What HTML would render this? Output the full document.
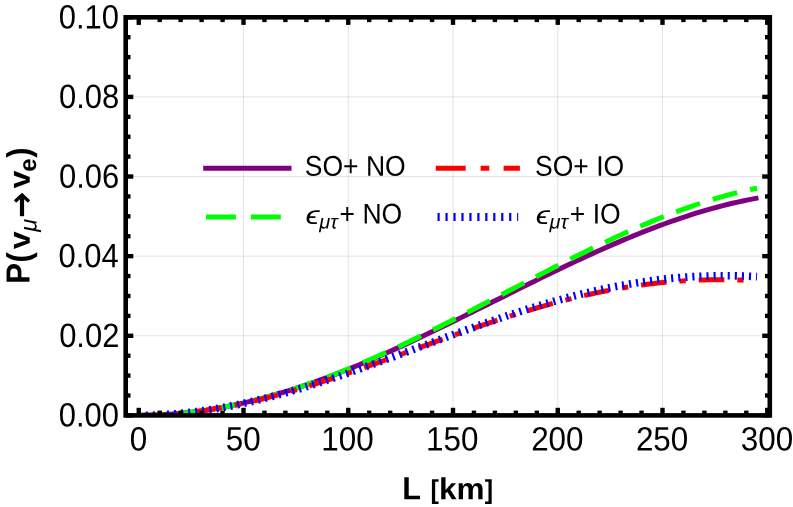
<!DOCTYPE html>
<html><head><meta charset="utf-8"><title>P(nu_mu -> nu_e) vs L</title>
<style>html,body{margin:0;padding:0;background:#fff;}svg{display:block;will-change:transform;}text{font-family:"Liberation Sans",sans-serif;fill:#000;}</style>
</head><body>
<svg width="793" height="507" viewBox="0 0 793 507">
<rect width="793" height="507" fill="#fff"/>
<g stroke="#000" stroke-opacity="0.11" stroke-width="1" fill="none">
<path d="M243.50,17.3 V415.4"/>
<path d="M348.25,17.3 V415.4"/>
<path d="M453.00,17.3 V415.4"/>
<path d="M557.75,17.3 V415.4"/>
<path d="M662.50,17.3 V415.4"/>
<path d="M125.7,335.78 H769.8"/>
<path d="M125.7,256.16 H769.8"/>
<path d="M125.7,176.54 H769.8"/>
<path d="M125.7,96.92 H769.8"/>
</g>
<clipPath id="pc"><rect x="125.7" y="17.3" width="644.0999999999999" height="398.09999999999997"/></clipPath>
<g fill="none" stroke-width="5" clip-path="url(#pc)">
<path d="M138.75,415.40 L143.96,415.37 L149.17,415.27 L154.37,415.11 L159.58,414.89 L164.79,414.60 L170.00,414.26 L175.20,413.85 L180.41,413.38 L185.62,412.84 L190.83,412.25 L196.03,411.60 L201.24,410.88 L206.45,410.11 L211.66,409.28 L216.86,408.40 L222.07,407.45 L227.28,406.45 L232.49,405.39 L237.69,404.28 L242.90,403.12 L248.11,401.90 L253.32,400.63 L258.52,399.30 L263.73,397.93 L268.94,396.50 L274.15,395.03 L279.35,393.50 L284.56,391.93 L289.77,390.32 L294.98,388.65 L300.18,386.94 L305.39,385.19 L310.60,383.39 L315.81,381.55 L321.01,379.68 L326.22,377.76 L331.43,375.80 L336.64,373.80 L341.85,371.77 L347.05,369.70 L352.26,367.59 L357.47,365.45 L362.68,363.28 L367.88,361.08 L373.09,358.85 L378.30,356.58 L383.51,354.29 L388.71,351.98 L393.92,349.63 L399.13,347.27 L404.34,344.87 L409.54,342.46 L414.75,340.03 L419.96,337.57 L425.17,335.10 L430.37,332.61 L435.58,330.10 L440.79,327.58 L446.00,325.05 L451.20,322.50 L456.41,319.94 L461.62,317.37 L466.83,314.80 L472.03,312.21 L477.24,309.63 L482.45,307.03 L487.66,304.44 L492.86,301.84 L498.07,299.24 L503.28,296.64 L508.49,294.04 L513.70,291.45 L518.90,288.86 L524.11,286.28 L529.32,283.71 L534.53,281.14 L539.73,278.59 L544.94,276.04 L550.15,273.51 L555.36,270.99 L560.56,268.49 L565.77,266.01 L570.98,263.54 L576.19,261.09 L581.39,258.67 L586.60,256.26 L591.81,253.88 L597.02,251.53 L602.22,249.20 L607.43,246.89 L612.64,244.62 L617.85,242.38 L623.05,240.17 L628.26,237.99 L633.47,235.84 L638.68,233.74 L643.88,231.66 L649.09,229.63 L654.30,227.63 L659.51,225.68 L664.71,223.77 L669.92,221.90 L675.13,220.07 L680.34,218.29 L685.55,216.56 L690.75,214.88 L695.96,213.24 L701.17,211.66 L706.38,210.13 L711.58,208.65 L716.79,207.22 L722.00,205.85 L727.21,204.54 L732.41,203.28 L737.62,202.08 L742.83,200.95 L748.04,199.87 L753.24,198.86 L758.45,197.91" stroke="#800080"/>
<path d="M138.75,415.40 L143.95,415.37 L149.14,415.27 L154.34,415.12 L159.53,414.90 L164.73,414.62 L169.92,414.28 L175.12,413.87 L180.31,413.41 L185.51,412.88 L190.70,412.30 L195.90,411.65 L201.09,410.95 L206.29,410.19 L211.48,409.36 L216.68,408.48 L221.87,407.55 L227.07,406.55 L232.26,405.50 L237.46,404.40 L242.65,403.23 L247.85,402.02 L253.05,400.75 L258.24,399.43 L263.44,398.05 L268.63,396.62 L273.83,395.14 L279.02,393.62 L284.22,392.04 L289.41,390.41 L294.61,388.74 L299.80,387.02 L305.00,385.25 L310.19,383.44 L315.39,381.58 L320.58,379.68 L325.78,377.74 L330.97,375.76 L336.17,373.74 L341.36,371.67 L346.56,369.57 L351.76,367.43 L356.95,365.26 L362.15,363.05 L367.34,360.80 L372.54,358.52 L377.73,356.21 L382.93,353.87 L388.12,351.50 L393.32,349.10 L398.51,346.67 L403.71,344.22 L408.90,341.74 L414.10,339.24 L419.29,336.72 L424.49,334.17 L429.68,331.60 L434.88,329.02 L440.07,326.41 L445.27,323.79 L450.46,321.16 L455.66,318.51 L460.86,315.84 L466.05,313.17 L471.25,310.49 L476.44,307.79 L481.64,305.09 L486.83,302.39 L492.03,299.68 L497.22,296.96 L502.42,294.25 L507.61,291.53 L512.81,288.81 L518.00,286.10 L523.20,283.39 L528.39,280.68 L533.59,277.98 L538.78,275.29 L543.98,272.61 L549.17,269.94 L554.37,267.28 L559.57,264.63 L564.76,262.00 L569.96,259.38 L575.15,256.79 L580.35,254.21 L585.54,251.65 L590.74,249.11 L595.93,246.60 L601.13,244.11 L606.32,241.65 L611.52,239.22 L616.71,236.81 L621.91,234.44 L627.10,232.10 L632.30,229.79 L637.49,227.52 L642.69,225.28 L647.88,223.08 L653.08,220.92 L658.27,218.80 L663.47,216.73 L668.67,214.70 L673.86,212.71 L679.06,210.77 L684.25,208.88 L689.45,207.03 L694.64,205.24 L699.84,203.50 L705.03,201.81 L710.23,200.18 L715.42,198.61 L720.62,197.09 L725.81,195.63 L731.01,194.23 L736.20,192.90 L741.40,191.63 L746.59,190.42 L751.79,189.28 L756.98,188.21" stroke="#00ff00" stroke-dasharray="25.4 13.25"/>
<path d="M138.75,415.40 L143.94,415.37 L149.13,415.27 L154.31,415.11 L159.50,414.89 L164.69,414.61 L169.88,414.27 L175.07,413.87 L180.26,413.40 L185.44,412.88 L190.63,412.31 L195.82,411.67 L201.01,410.98 L206.20,410.24 L211.38,409.44 L216.57,408.59 L221.76,407.69 L226.95,406.74 L232.14,405.74 L237.33,404.69 L242.51,403.59 L247.70,402.45 L252.89,401.26 L258.08,400.03 L263.27,398.76 L268.46,397.45 L273.64,396.10 L278.83,394.71 L284.02,393.28 L289.21,391.82 L294.40,390.32 L299.58,388.79 L304.77,387.23 L309.96,385.64 L315.15,384.02 L320.34,382.38 L325.53,380.70 L330.71,379.01 L335.90,377.28 L341.09,375.54 L346.28,373.78 L351.47,372.00 L356.65,370.20 L361.84,368.39 L367.03,366.56 L372.22,364.72 L377.41,362.86 L382.60,361.00 L387.78,359.13 L392.97,357.25 L398.16,355.37 L403.35,353.48 L408.54,351.59 L413.72,349.70 L418.91,347.80 L424.10,345.91 L429.29,344.03 L434.48,342.14 L439.67,340.27 L444.85,338.40 L450.04,336.54 L455.23,334.69 L460.42,332.85 L465.61,331.02 L470.80,329.21 L475.98,327.41 L481.17,325.63 L486.36,323.87 L491.55,322.13 L496.74,320.41 L501.92,318.71 L507.11,317.03 L512.30,315.38 L517.49,313.75 L522.68,312.15 L527.87,310.58 L533.05,309.04 L538.24,307.52 L543.43,306.04 L548.62,304.59 L553.81,303.18 L558.99,301.79 L564.18,300.45 L569.37,299.14 L574.56,297.86 L579.75,296.63 L584.94,295.43 L590.12,294.27 L595.31,293.15 L600.50,292.07 L605.69,291.04 L610.88,290.05 L616.06,289.10 L621.25,288.19 L626.44,287.33 L631.63,286.51 L636.82,285.74 L642.01,285.01 L647.19,284.33 L652.38,283.69 L657.57,283.10 L662.76,282.56 L667.95,282.07 L673.14,281.62 L678.32,281.22 L683.51,280.87 L688.70,280.56 L693.89,280.31 L699.08,280.09 L704.26,279.93 L709.45,279.82 L714.64,279.75 L719.83,279.72 L725.02,279.75 L730.21,279.82 L735.39,279.93 L740.58,280.09 L745.77,280.29 L750.96,280.54 L756.15,280.83" stroke="#ff0000" stroke-dasharray="25.6 13 6.3 13"/>
<path d="M138.75,415.40 L143.95,415.37 L149.14,415.27 L154.34,415.11 L159.53,414.89 L164.73,414.61 L169.92,414.27 L175.12,413.86 L180.31,413.40 L185.51,412.88 L190.70,412.30 L195.90,411.67 L201.09,410.97 L206.29,410.23 L211.48,409.43 L216.68,408.58 L221.87,407.67 L227.07,406.72 L232.26,405.72 L237.46,404.66 L242.65,403.56 L247.85,402.42 L253.05,401.23 L258.24,399.99 L263.44,398.71 L268.63,397.40 L273.83,396.04 L279.02,394.64 L284.22,393.21 L289.41,391.73 L294.61,390.23 L299.80,388.69 L305.00,387.12 L310.19,385.51 L315.39,383.88 L320.58,382.22 L325.78,380.53 L330.97,378.82 L336.17,377.08 L341.36,375.32 L346.56,373.54 L351.76,371.74 L356.95,369.92 L362.15,368.09 L367.34,366.24 L372.54,364.37 L377.73,362.50 L382.93,360.61 L388.12,358.71 L393.32,356.80 L398.51,354.89 L403.71,352.97 L408.90,351.05 L414.10,349.12 L419.29,347.19 L424.49,345.27 L429.68,343.34 L434.88,341.42 L440.07,339.51 L445.27,337.60 L450.46,335.69 L455.66,333.80 L460.86,331.92 L466.05,330.04 L471.25,328.18 L476.44,326.34 L481.64,324.51 L486.83,322.70 L492.03,320.90 L497.22,319.13 L502.42,317.37 L507.61,315.64 L512.81,313.93 L518.00,312.25 L523.20,310.59 L528.39,308.95 L533.59,307.35 L538.78,305.77 L543.98,304.23 L549.17,302.72 L554.37,301.23 L559.57,299.79 L564.76,298.37 L569.96,296.99 L575.15,295.65 L580.35,294.35 L585.54,293.08 L590.74,291.85 L595.93,290.67 L601.13,289.52 L606.32,288.41 L611.52,287.35 L616.71,286.33 L621.91,285.35 L627.10,284.42 L632.30,283.54 L637.49,282.70 L642.69,281.90 L647.88,281.15 L653.08,280.45 L658.27,279.80 L663.47,279.19 L668.67,278.63 L673.86,278.12 L679.06,277.66 L684.25,277.25 L689.45,276.89 L694.64,276.58 L699.84,276.31 L705.03,276.10 L710.23,275.94 L715.42,275.82 L720.62,275.76 L725.81,275.74 L731.01,275.77 L736.20,275.85 L741.40,275.99 L746.59,276.16 L751.79,276.39 L756.98,276.66" stroke="#0000ff" stroke-width="7.7" stroke-dasharray="2.1 4.98"/>
</g>
<rect x="125.7" y="17.3" width="644.0999999999999" height="398.09999999999997" fill="none" stroke="#000" stroke-width="4.6"/>
<g stroke="#000" stroke-width="4.4" fill="none">
<path d="M138.75,415.4 v-7.6"/>
<path d="M138.75,17.3 v7.6"/>
<path d="M159.70,415.4 v-4.8"/>
<path d="M159.70,17.3 v4.8"/>
<path d="M180.65,415.4 v-4.8"/>
<path d="M180.65,17.3 v4.8"/>
<path d="M201.60,415.4 v-4.8"/>
<path d="M201.60,17.3 v4.8"/>
<path d="M222.55,415.4 v-4.8"/>
<path d="M222.55,17.3 v4.8"/>
<path d="M243.50,415.4 v-7.6"/>
<path d="M243.50,17.3 v7.6"/>
<path d="M264.45,415.4 v-4.8"/>
<path d="M264.45,17.3 v4.8"/>
<path d="M285.40,415.4 v-4.8"/>
<path d="M285.40,17.3 v4.8"/>
<path d="M306.35,415.4 v-4.8"/>
<path d="M306.35,17.3 v4.8"/>
<path d="M327.30,415.4 v-4.8"/>
<path d="M327.30,17.3 v4.8"/>
<path d="M348.25,415.4 v-7.6"/>
<path d="M348.25,17.3 v7.6"/>
<path d="M369.20,415.4 v-4.8"/>
<path d="M369.20,17.3 v4.8"/>
<path d="M390.15,415.4 v-4.8"/>
<path d="M390.15,17.3 v4.8"/>
<path d="M411.10,415.4 v-4.8"/>
<path d="M411.10,17.3 v4.8"/>
<path d="M432.05,415.4 v-4.8"/>
<path d="M432.05,17.3 v4.8"/>
<path d="M453.00,415.4 v-7.6"/>
<path d="M453.00,17.3 v7.6"/>
<path d="M473.95,415.4 v-4.8"/>
<path d="M473.95,17.3 v4.8"/>
<path d="M494.90,415.4 v-4.8"/>
<path d="M494.90,17.3 v4.8"/>
<path d="M515.85,415.4 v-4.8"/>
<path d="M515.85,17.3 v4.8"/>
<path d="M536.80,415.4 v-4.8"/>
<path d="M536.80,17.3 v4.8"/>
<path d="M557.75,415.4 v-7.6"/>
<path d="M557.75,17.3 v7.6"/>
<path d="M578.70,415.4 v-4.8"/>
<path d="M578.70,17.3 v4.8"/>
<path d="M599.65,415.4 v-4.8"/>
<path d="M599.65,17.3 v4.8"/>
<path d="M620.60,415.4 v-4.8"/>
<path d="M620.60,17.3 v4.8"/>
<path d="M641.55,415.4 v-4.8"/>
<path d="M641.55,17.3 v4.8"/>
<path d="M662.50,415.4 v-7.6"/>
<path d="M662.50,17.3 v7.6"/>
<path d="M683.45,415.4 v-4.8"/>
<path d="M683.45,17.3 v4.8"/>
<path d="M704.40,415.4 v-4.8"/>
<path d="M704.40,17.3 v4.8"/>
<path d="M725.35,415.4 v-4.8"/>
<path d="M725.35,17.3 v4.8"/>
<path d="M746.30,415.4 v-4.8"/>
<path d="M746.30,17.3 v4.8"/>
<path d="M767.25,415.4 v-7.6"/>
<path d="M767.25,17.3 v7.6"/>
<path d="M125.7,415.40 h7.6"/>
<path d="M769.8,415.40 h-7.6"/>
<path d="M125.7,395.50 h4.8"/>
<path d="M769.8,395.50 h-4.8"/>
<path d="M125.7,375.59 h4.8"/>
<path d="M769.8,375.59 h-4.8"/>
<path d="M125.7,355.69 h4.8"/>
<path d="M769.8,355.69 h-4.8"/>
<path d="M125.7,335.78 h7.6"/>
<path d="M769.8,335.78 h-7.6"/>
<path d="M125.7,315.88 h4.8"/>
<path d="M769.8,315.88 h-4.8"/>
<path d="M125.7,295.97 h4.8"/>
<path d="M769.8,295.97 h-4.8"/>
<path d="M125.7,276.06 h4.8"/>
<path d="M769.8,276.06 h-4.8"/>
<path d="M125.7,256.16 h7.6"/>
<path d="M769.8,256.16 h-7.6"/>
<path d="M125.7,236.25 h4.8"/>
<path d="M769.8,236.25 h-4.8"/>
<path d="M125.7,216.35 h4.8"/>
<path d="M769.8,216.35 h-4.8"/>
<path d="M125.7,196.44 h4.8"/>
<path d="M769.8,196.44 h-4.8"/>
<path d="M125.7,176.54 h7.6"/>
<path d="M769.8,176.54 h-7.6"/>
<path d="M125.7,156.63 h4.8"/>
<path d="M769.8,156.63 h-4.8"/>
<path d="M125.7,136.73 h4.8"/>
<path d="M769.8,136.73 h-4.8"/>
<path d="M125.7,116.82 h4.8"/>
<path d="M769.8,116.82 h-4.8"/>
<path d="M125.7,96.92 h7.6"/>
<path d="M769.8,96.92 h-7.6"/>
<path d="M125.7,77.01 h4.8"/>
<path d="M769.8,77.01 h-4.8"/>
<path d="M125.7,57.11 h4.8"/>
<path d="M769.8,57.11 h-4.8"/>
<path d="M125.7,37.20 h4.8"/>
<path d="M769.8,37.20 h-4.8"/>
<path d="M125.7,17.30 h7.6"/>
<path d="M769.8,17.30 h-7.6"/>
</g>
<text transform="translate(129.81,450.60) scale(0.93,1) rotate(0.03)" font-size="33.8">0</text>
<text transform="translate(225.80,450.60) scale(0.93,1) rotate(0.03)" font-size="33.8">50</text>
<text transform="translate(321.24,450.60) scale(0.93,1) rotate(0.03)" font-size="33.8">100</text>
<text transform="translate(425.99,450.60) scale(0.93,1) rotate(0.03)" font-size="33.8">150</text>
<text transform="translate(531.15,450.60) scale(0.93,1) rotate(0.03)" font-size="33.8">200</text>
<text transform="translate(635.90,450.60) scale(0.93,1) rotate(0.03)" font-size="33.8">250</text>
<text transform="translate(740.84,450.60) scale(0.93,1) rotate(0.03)" font-size="33.8">300</text>
<text transform="translate(58.82,426.50) scale(0.915,1) rotate(0.03)" font-size="33.8">0.00</text>
<text transform="translate(59.16,346.88) scale(0.915,1) rotate(0.03)" font-size="33.8">0.02</text>
<text transform="translate(58.51,267.26) scale(0.915,1) rotate(0.03)" font-size="33.8">0.04</text>
<text transform="translate(58.97,187.64) scale(0.915,1) rotate(0.03)" font-size="33.8">0.06</text>
<text transform="translate(58.95,108.02) scale(0.915,1) rotate(0.03)" font-size="33.8">0.08</text>
<text transform="translate(58.82,28.40) scale(0.915,1) rotate(0.03)" font-size="33.8">0.10</text>
<text transform="translate(402.34,499.30) scale(0.96,1) rotate(0.03)" font-size="32.0" font-weight="bold">L</text>
<text transform="translate(430.59,498.60) scale(0.95,1) rotate(0.03)" font-size="26.5" font-weight="bold">[</text>
<text transform="translate(439.10,499.30) scale(1.04,1) rotate(0.03)" font-size="30.3" font-weight="bold">km</text>
<text transform="translate(484.63,498.60) scale(0.95,1) rotate(0.03)" font-size="26.5" font-weight="bold">]</text>
<g transform="translate(29.6,281.7) rotate(-90)">
<text transform="translate(-1.98,0.00) scale(0.93,1) rotate(0.03)" font-size="33.4" font-weight="bold">P</text>
<text transform="translate(19.15,0.70) scale(0.93,1) rotate(0.03)" font-size="33.4" font-weight="bold">(</text>
<text transform="translate(32.47,0.10) scale(1.07,1) rotate(0.03)" font-size="30.0" font-weight="bold">v</text>
<text transform="translate(49.89,6.90) scale(1.0,1) rotate(0.03)" font-size="23.5" font-style="italic">μ</text>
<path d="M65.5,-7.6 H87" stroke="#000" stroke-width="4.2" fill="none"/>
<path d="M80.3,-14.6 L86.6,-7.6 L80.3,-0.6" stroke="#000" stroke-width="3.4" fill="none" stroke-linejoin="miter"/>
<text transform="translate(93.17,0.10) scale(1.07,1) rotate(0.03)" font-size="30.0" font-weight="bold">v</text>
<text transform="translate(109.86,6.40) scale(1.0,1) rotate(0.03)" font-size="24" font-weight="bold">e</text>
<text transform="translate(124.07,0.70) scale(0.93,1) rotate(0.03)" font-size="33.4" font-weight="bold">)</text>
</g>
<g fill="none" stroke-width="5.1">
<path d="M203.2,168.3 H291.5" stroke="#800080"/>
<path d="M206,217 H235.9 M250.9,217 H280.8" stroke="#00ff00"/>
<path d="M435.8,168.3 H465.7 M480.6,168.3 H489.3 M503.6,168.3 H519.9" stroke="#ff0000"/>
<path d="M437.5,217 H518.2" stroke="#0000ff" stroke-width="8" stroke-dasharray="2.2 5.76"/>
</g>
<text transform="translate(304.80,175.75) scale(0.93,1) rotate(0.03)" font-size="28.5">SO+ NO</text>
<text transform="translate(535.00,175.75) scale(0.93,1) rotate(0.03)" font-size="28.5">SO+ IO</text>
<text transform="translate(305.48,223.80) scale(1.22,1) rotate(0.03)" font-size="26" font-style="italic">ϵ</text>
<text transform="translate(319.22,228.60) scale(1.0,1) rotate(0.03)" font-size="20" font-style="italic">μτ</text>
<text transform="translate(535.68,223.80) scale(1.22,1) rotate(0.03)" font-size="26" font-style="italic">ϵ</text>
<text transform="translate(549.42,228.60) scale(1.0,1) rotate(0.03)" font-size="20" font-style="italic">μτ</text>
<text transform="translate(339.61,223.40) scale(0.93,1) rotate(0.03)" font-size="28.5">+ NO</text>
<text transform="translate(569.81,223.40) scale(0.93,1) rotate(0.03)" font-size="28.5">+ IO</text>
</svg>
</body></html>
